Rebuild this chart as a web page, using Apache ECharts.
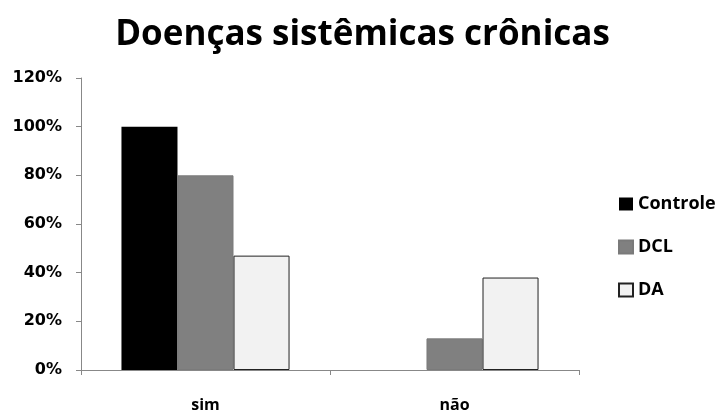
<!DOCTYPE html>
<html><head><meta charset="utf-8">
<script src="https://cdn.jsdelivr.net/npm/echarts@6/dist/echarts.min.js"></script>
<style>html,body{margin:0;padding:0;background:#fff}#c{width:725px;height:414px}</style>
</head><body><div id="c"></div>
<script>
const categories = ['sim', 'não'];
const seriesNames = ['Controle', 'DCL', 'DA'];
const controle = [100, 0];
const dcl = [80, 13];
const da = [47, 38];
const yTicks = [0, 20, 40, 60, 80, 100, 120];

const font = 'Open Sans';
const chart = echarts.init(document.getElementById('c'));
chart.setOption({
  animation: false,
  title: { text: 'Doenças sistêmicas crônicas', left: 'center', top: 13,
    textStyle: { fontFamily: font, fontWeight: 'bold', fontSize: 35, color: '#000' } },
  legend: { orient: 'vertical', left: 613, top: 190, itemGap: 25, itemWidth: 14, itemHeight: 13,
    icon: 'rect',
    textStyle: { fontFamily: font, fontWeight: 'bold', fontSize: 18, color: '#000' },
    data: seriesNames },
  grid: { left: 81, right: 146, top: 78, bottom: 44 },
  xAxis: { type: 'category', data: categories,
    axisLine: { lineStyle: { color: '#888' } },
    axisTick: { show: true, length: 5, lineStyle: { color: '#888' } },
    axisLabel: { fontFamily: font, fontWeight: 'bold', fontSize: 16, color: '#000', margin: 27 } },
  yAxis: { type: 'value', min: 0, max: 120, interval: 20,
    axisLine: { show: true, lineStyle: { color: '#888' } },
    axisTick: { show: true, length: 5, lineStyle: { color: '#888' } },
    splitLine: { show: false },
    axisLabel: { fontFamily: 'DejaVu Sans', fontWeight: 'bold', fontSize: 16, color: '#000', margin: 19,
      formatter: v => v + '%' } },
  series: [
    { name: 'Controle', type: 'bar', data: controle, barGap: '0%', barCategoryGap: '32.5%',
      itemStyle: { color: '#000', borderWidth: 0 } },
    { name: 'DCL', type: 'bar', data: dcl,
      itemStyle: { color: '#808080', borderColor: '#7a7a7a', borderWidth: 1 } },
    { name: 'DA', type: 'bar', data: da,
      itemStyle: { color: '#f2f2f2', borderColor: '#222', borderWidth: 1 } }
  ]
});
</script></body></html>
